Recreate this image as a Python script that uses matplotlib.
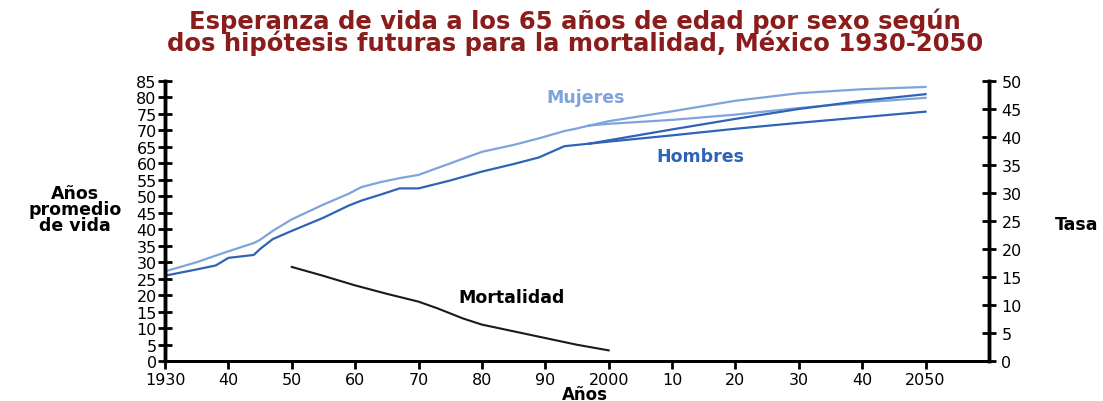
import matplotlib
import matplotlib.pyplot as plt

matplotlib.use('Agg')

# letra ancha para parecerse al original (texto estirado)
plt.rcParams['font.family'] = ['DejaVu Sans']

# === datos ===
anios_hist = [1930, 1935, 1938, 1940, 1944, 1945, 1947, 1950, 1955, 1959, 1961, 1964,
              1967, 1970, 1975, 1980, 1985, 1989, 1993, 1995, 1997]
mujeres_hist = [27.2, 30.0, 32.0, 33.3, 35.8, 36.8, 39.5, 43.0, 47.5, 50.8, 52.8, 54.3,
                55.5, 56.5, 60.0, 63.5, 65.6, 67.6, 69.8, 70.6, 71.5]
hombres_hist = [25.9, 27.8, 29.0, 31.3, 32.2, 34.0, 37.0, 39.5, 43.5, 47.2, 48.7, 50.5,
                52.4, 52.4, 54.8, 57.5, 59.8, 61.8, 65.2, 65.6, 66.0]

anios_proy = [1997, 2000, 2010, 2020, 2030, 2040, 2050]
mujeres_alta = [71.5, 72.8, 75.8, 79.0, 81.3, 82.5, 83.2]
mujeres_baja = [71.5, 72.0, 73.2, 74.8, 76.8, 78.5, 79.9]
hombres_alta = [66.0, 67.0, 70.3, 73.5, 76.5, 79.0, 81.0]
hombres_baja = [66.0, 66.6, 68.5, 70.5, 72.3, 74.0, 75.7]

anios_mort = [1950, 1955, 1960, 1965, 1970, 1973, 1977, 1980, 1985, 1990, 1995, 2000]
mortalidad = [16.8, 15.2, 13.5, 12.0, 10.6, 9.4, 7.6, 6.5, 5.3, 4.1, 2.9, 1.9]

x_ticks = [1930, 1940, 1950, 1960, 1970, 1980, 1990, 2000, 2010, 2020, 2030, 2040, 2050]
x_labels = ['1930', '40', '50', '60', '70', '80', '90', '2000', '10', '20', '30', '40', '2050']

C_MUJ = '#7fa3db'
C_HOM = '#2f63b6'
TITULO = '#8b1c1c'

fig = plt.figure(figsize=(11.03, 4.02), dpi=100)
ax = fig.add_axes([0.1496, 0.0995, 0.747, 0.6965])
ax2 = ax.twinx()

ax.plot(anios_hist, mujeres_hist, color=C_MUJ, lw=1.6)
ax.plot(anios_proy, mujeres_alta, color=C_MUJ, lw=1.6)
ax.plot(anios_proy, mujeres_baja, color=C_MUJ, lw=1.6)
ax.plot(anios_hist, hombres_hist, color=C_HOM, lw=1.6)
ax.plot(anios_proy, hombres_alta, color=C_HOM, lw=1.6)
ax.plot(anios_proy, hombres_baja, color=C_HOM, lw=1.6)
ax2.plot(anios_mort, mortalidad, color='#1a1a1a', lw=1.5)

ax.set_xlim(1930, 2060)
ax.set_ylim(0, 85)
ax2.set_ylim(0, 50)
ax.set_xticks(x_ticks)
ax.set_xticklabels(x_labels)
ax.set_yticks(range(0, 90, 5))
ax2.set_yticks(range(0, 55, 5))

for a in (ax, ax2):
    a.spines['top'].set_visible(False)
    a.spines['left'].set_linewidth(2.5)
    a.spines['right'].set_linewidth(2.5)
    a.spines['bottom'].set_linewidth(2)
    a.patch.set_visible(False)

ax.tick_params(axis='y', direction='inout', length=10, width=2, labelsize=11.5, pad=1)
ax2.tick_params(axis='y', direction='inout', length=10, width=2, labelsize=11.5, pad=4)
ax.tick_params(axis='x', direction='out', length=6, width=2, labelsize=11.5, pad=2)

fig.text(0.530, 0.018, 'Años', ha='center', va='center', fontsize=12, fontweight='bold')

fig.text(0.068, 0.478, 'Años\npromedio\nde vida', ha='center', va='center',
         fontsize=12.5, fontweight='bold', linespacing=0.85)
fig.text(0.976, 0.44, 'Tasa', ha='center', va='center', fontsize=12.5, fontweight='bold')

ax.text(1996.4, 80.2, 'Mujeres', color=C_MUJ, fontsize=12.5, fontweight='bold', ha='center', va='center')
ax.text(2014.4, 62.1, 'Hombres', color=C_HOM, fontsize=12.5, fontweight='bold', ha='center', va='center')
ax.text(1984.7, 19.5, 'Mortalidad', color='black', fontsize=12.5, fontweight='bold', ha='center', va='center')

fig.text(0.521, 0.92, 'Esperanza de vida a los 65 años de edad por sexo según\n'
         'dos hipótesis futuras para la mortalidad, México 1930-2050',
         ha='center', va='center', color=TITULO, fontsize=17.5, fontweight='bold', linespacing=0.82)

fig.savefig('out.png', dpi=100)
plt.close(fig)
